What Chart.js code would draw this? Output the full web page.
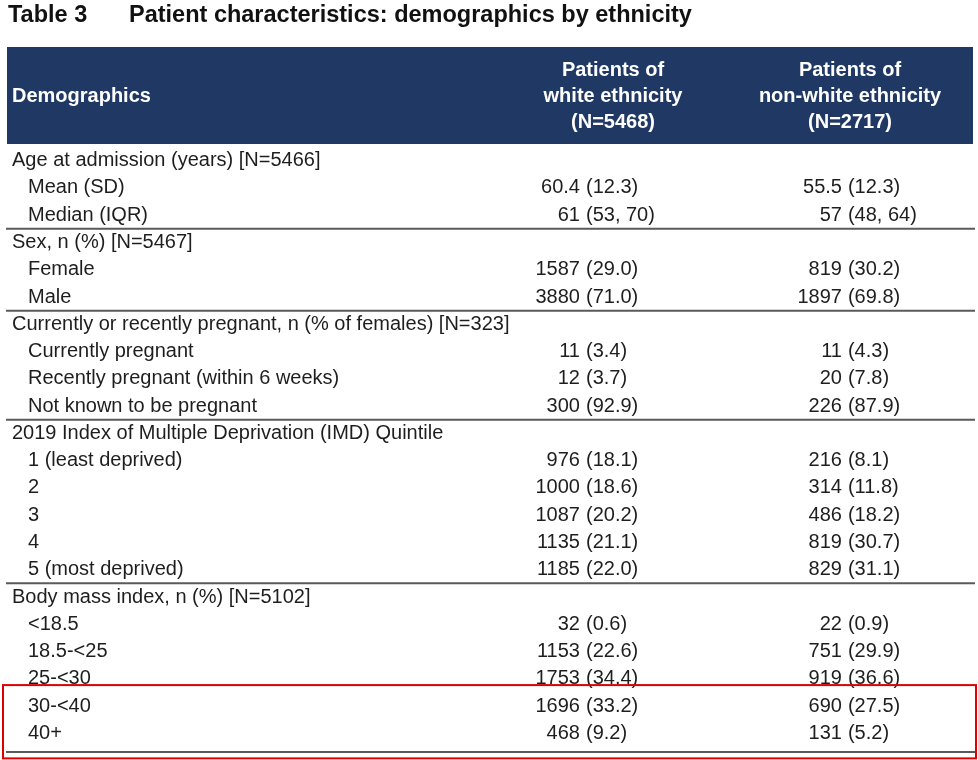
<!DOCTYPE html>
<html>
<head>
<meta charset="utf-8">
<script src="https://cdn.jsdelivr.net/npm/chart.js@4.4.1/dist/chart.umd.min.js"></script>
<style>
  body { margin: 0; background: #fff; }
  #wrap { width: 978px; height: 760px; position: relative; }
</style>
</head>
<body>
<div id="wrap"><canvas id="tableChart"></canvas></div>
<script>
// Table rows (group headings have no values)
const rowLabels = [
    'Age at admission (years) [N=5466]', 'Mean (SD)', 'Median (IQR)',
    'Sex, n (%) [N=5467]', 'Female', 'Male',
    'Currently or recently pregnant, n (% of females) [N=323]', 'Currently pregnant',
    'Recently pregnant (within 6 weeks)', 'Not known to be pregnant',
    '2019 Index of Multiple Deprivation (IMD) Quintile', '1 (least deprived)', '2', '3', '4', '5 (most deprived)',
    'Body mass index, n (%) [N=5102]', '<18.5', '18.5-<25', '25-<30', '30-<40', '40+'
];
const columnHeaders = [
    ['Patients of', 'white ethnicity', '(N=5468)'],
    ['Patients of', 'non-white ethnicity', '(N=2717)']
];
const whiteCount = [null, 60.4, 61, null, 1587, 3880, null, 11, 12, 300, null, 976, 1000, 1087, 1135, 1185, null, 32, 1153, 1753, 1696, 468];
const whiteDetail = ['', '(12.3)', '(53, 70)', '', '(29.0)', '(71.0)', '', '(3.4)', '(3.7)', '(92.9)', '', '(18.1)', '(18.6)', '(20.2)', '(21.1)', '(22.0)', '', '(0.6)', '(22.6)', '(34.4)', '(33.2)', '(9.2)'];
const nonWhiteCount = [null, 55.5, 57, null, 819, 1897, null, 11, 20, 226, null, 216, 314, 486, 819, 829, null, 22, 751, 919, 690, 131];
const nonWhiteDetail = ['', '(12.3)', '(48, 64)', '', '(30.2)', '(69.8)', '', '(4.3)', '(7.8)', '(87.9)', '', '(8.1)', '(11.8)', '(18.2)', '(30.7)', '(31.1)', '', '(0.9)', '(29.9)', '(36.6)', '(27.5)', '(5.2)'];
const groupEndRows = [2, 5, 9, 15, 21];
const highlightRows = [20, 21];

const FONT = '"Liberation Sans", Arial, sans-serif';
const TEXT = '#1e1e1e';
const NAVY = '#1f3864';

function cellPoints(counts, col) {
    const pts = [];
    counts.forEach((v, i) => { if (v !== null) pts.push({ x: col, y: rowLabels[i], row: i }); });
    return pts;
}

const tablePlugin = {
    id: 'tablePlugin',
    afterDraw(chart) {
        const ctx = chart.ctx;
        const area = chart.chartArea;
        const yScale = chart.scales.y;
        ctx.save();

        // title
        ctx.fillStyle = '#111';
        ctx.font = 'bold 23.5px ' + FONT;
        ctx.textBaseline = 'middle';
        ctx.textAlign = 'left';
        ctx.fillText('Table 3', 8, 16);
        ctx.fillText('Patient characteristics: demographics by ethnicity', 129, 16);

        // header band
        ctx.fillStyle = NAVY;
        ctx.fillRect(7, 47, 966, 97);
        ctx.fillStyle = '#fff';
        ctx.font = 'bold 20px ' + FONT;
        ctx.fillText('Demographics', 12, 96);
        ctx.textAlign = 'center';
        const headerCenters = [613, 850];
        columnHeaders.forEach((lines, c) => {
            lines.forEach((t, k) => ctx.fillText(t, headerCenters[c], 70 + k * 26));
        });

        // row labels
        ctx.font = '20px ' + FONT;
        ctx.fillStyle = TEXT;
        ctx.textAlign = 'left';
        rowLabels.forEach((lab, i) => {
            const y = yScale.getPixelForValue(i);
            const indent = whiteCount[i] === null ? 12 : 28;
            ctx.fillText(lab, indent, y);
        });

        // cell values, placed at the dataset points
        const details = [whiteDetail, nonWhiteDetail];
        const counts = [whiteCount, nonWhiteCount];
        chart.data.datasets.forEach((ds, d) => {
            const meta = chart.getDatasetMeta(d);
            meta.data.forEach((pt, j) => {
                const row = ds.data[j].row;
                ctx.textAlign = 'right';
                ctx.fillText(String(counts[d][row]), pt.x, pt.y);
                ctx.textAlign = 'left';
                ctx.fillText(details[d][row], pt.x + 6, pt.y);
            });
        });

        // group separator lines
        ctx.strokeStyle = '#5a5a5a';
        ctx.lineWidth = 2;
        groupEndRows.forEach(r => {
            let y;
            if (r + 1 < rowLabels.length) {
                y = (yScale.getPixelForValue(r) + yScale.getPixelForValue(r + 1)) / 2;
            } else {
                y = area.bottom + 5;
            }
            ctx.beginPath();
            ctx.moveTo(6, y);
            ctx.lineTo(975, y);
            ctx.stroke();
        });

        // red highlight box
        const top = yScale.getPixelForValue(highlightRows[0]) - 21;
        const bottom = yScale.getPixelForValue(highlightRows[highlightRows.length - 1]) + 25;
        ctx.strokeStyle = '#e00000';
        ctx.lineWidth = 2;
        ctx.strokeRect(3, top, 973, bottom - top);
        ctx.restore();
    }
};

new Chart(document.getElementById('tableChart'), {
    type: 'scatter',
    data: {
        datasets: [
            { label: 'white', data: cellPoints(whiteCount, 1), pointRadius: 0 },
            { label: 'non-white', data: cellPoints(nonWhiteCount, 2), pointRadius: 0 }
        ]
    },
    options: {
        responsive: true,
        maintainAspectRatio: false,
        animation: false,
        devicePixelRatio: 1,
        layout: { padding: { top: 147, bottom: 13, left: 5, right: 3 } },
        plugins: { legend: { display: false }, tooltip: { enabled: false } },
        scales: {
            x: { type: 'linear', min: -1.195, max: 2.508, display: false },
            y: { type: 'category', labels: rowLabels, offset: true, display: false }
        }
    },
    plugins: [tablePlugin]
});
</script>
</body>
</html>
